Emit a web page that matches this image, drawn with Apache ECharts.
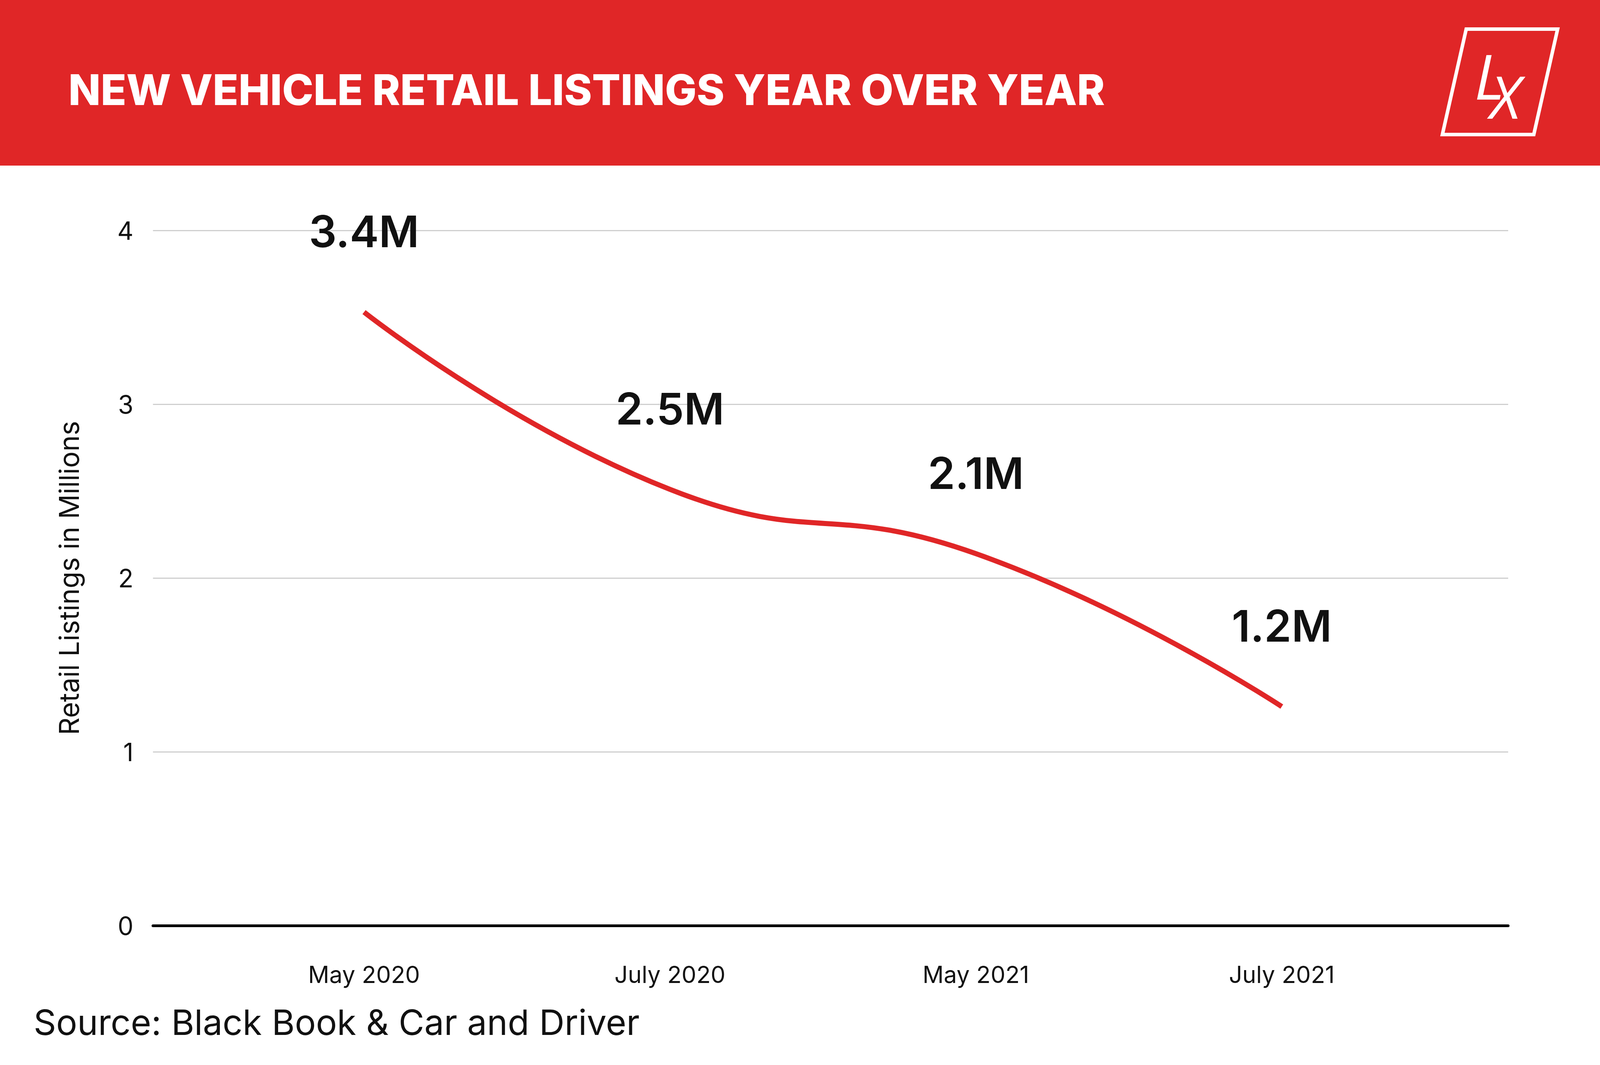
<!DOCTYPE html>
<html><head><meta charset="utf-8">
<script src="https://cdn.jsdelivr.net/npm/echarts@6/dist/echarts.min.js"></script>
<style>html,body{margin:0;padding:0;background:#fff;overflow:hidden}#c{width:100vw;height:100vh}</style>
</head><body><div id="c"></div>
<script>
const categories = ['May 2020', 'July 2020', 'May 2021', 'July 2021'];
const values = [3.53, 2.51, 2.14, 1.26];
const labelTexts = ['3.4M', '2.5M', '2.1M', '1.2M'];
const yTicks = [0, 1, 2, 3, 4];
const RED = '#e02627';
const chart = echarts.init(document.getElementById('c'), null, {renderer: 'svg'});
const W = chart.getWidth();
chart.setOption({
  animation: false,
  backgroundColor: '#fff',
  grid: {left: '9.56%', right: '5.74%', top: 590, bottom: 357, containLabel: false},
  xAxis: {
    type: 'value', min: -0.69, max: 3.74,
    splitLine: {show: false},
    axisLine: {show: true, onZero: false, lineStyle: {color: '#000', width: 7}},
    axisTick: {show: false},
    axisLabel: {
      customValues: [0, 1, 2, 3],
      formatter: v => categories[Math.round(v)],
      fontFamily: 'Inter', fontSize: 60, color: '#111', margin: 95
    }
  },
  yAxis: {
    type: 'value', min: 0, max: 4, interval: 1,
    name: 'Retail Listings in Millions', nameLocation: 'middle', nameGap: 180,
    nameTextStyle: {fontFamily: 'Inter', fontSize: 70, color: '#111'},
    axisLine: {show: false}, axisTick: {show: false},
    axisLabel: {fontFamily: 'Inter', fontSize: 64, color: '#111', margin: 50},
    splitLine: {lineStyle: {color: '#cfcfcf', width: 3}}
  },
  series: [{
    type: 'line', smooth: 0.5, showSymbol: true, symbol: 'circle', symbolSize: 2,
    itemStyle: {color: 'rgba(0,0,0,0)'},
    data: values.map((v, i) => [i, v]),
    lineStyle: {color: RED, width: 13},
    label: {show: true, position: 'top', distance: 150,
      formatter: p => labelTexts[p.dataIndex],
      fontFamily: 'Inter', fontWeight: 600, fontSize: 112, color: '#111'}
  }],
  graphic: [
    {type: 'rect', shape: {x: 0, y: 0, width: W, height: 424}, style: {fill: RED}},
    {type: 'text', left: 175, top: 175, style: {text: 'NEW VEHICLE RETAIL LISTINGS YEAR OVER YEAR',
      fill: '#fff', fontFamily: 'Inter', fontWeight: 800, fontSize: 108}},
    {type: 'group', right: 104, top: 70, children: [
      {type: 'polygon', shape: {points: [[61,4],[295,4],[234,274],[0,274]]},
        style: {fill: 'none', stroke: '#fff', lineWidth: 9}},
      {type: 'text', x: 82, y: 42, style: {text: 'L', fill: '#fff', fontFamily: 'Open Sans', fontStyle: 'italic', fontSize: 160}},
      {type: 'text', x: 122, y: 100, style: {text: 'X', fill: '#fff', fontFamily: 'Open Sans', fontStyle: 'italic', fontSize: 150}}
    ]},
    {type: 'text', left: 86, top: 2572, style: {text: 'Source: Black Book & Car and Driver',
      fill: '#111', fontFamily: 'Inter', fontSize: 90}}
  ]
});
</script></body></html>
